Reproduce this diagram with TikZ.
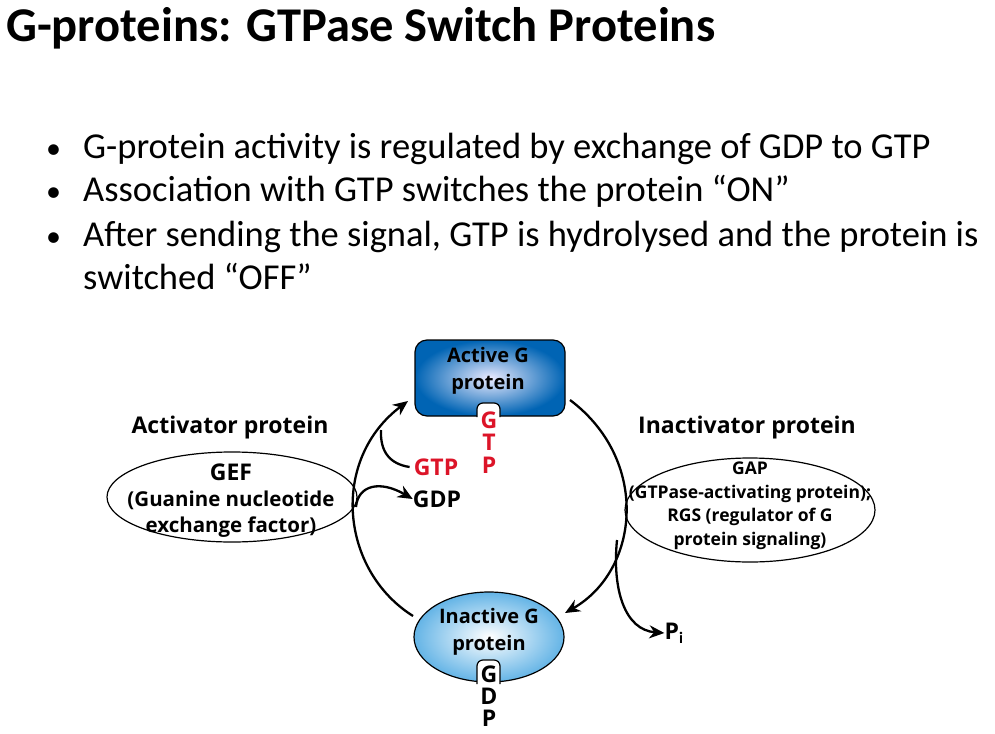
\documentclass[tikz,border=0pt]{standalone}
\usepackage{fontspec}
\setmainfont{Carlito}
\newfontfamily\dfont{Open Sans}
\usetikzlibrary{arrows.meta}
\begin{document}
\begin{tikzpicture}[x=1pt,y=-1pt,
  arr/.style={line width=2.3pt,-{Stealth[length=15pt,width=13pt]}},
  lbl/.style={font=\dfont\bfseries\fontsize{23}{25}\selectfont,inner sep=0pt},
  sm/.style={font=\dfont\bfseries\fontsize{17.5}{23.5}\selectfont,align=center,inner sep=0pt},
  md/.style={font=\dfont\bfseries\fontsize{20.5}{26}\selectfont,align=center,inner sep=0pt},
  bul/.style={font=\fontsize{36.5}{44}\selectfont,anchor=base west,inner sep=0pt}]
\useasboundingbox (0,0) rectangle (995,733);
\node[anchor=base west,inner sep=0pt,font=\bfseries\fontsize{48.5}{52}\selectfont] (title) at (6,42) {G-proteins: GTPase Switch Proteins};
\foreach \yy/\t [count=\i] in {158/{G-protein activity is regulated by exchange of GDP to GTP},201/{Association with GTP switches the protein “ON”},246/{After sending the signal, GTP is hydrolysed and the protein is},289/{switched “OFF”}}{
  \node[bul] (b\i) at (83,\yy) {\t};}
\foreach \yy/\i in {158/1,201/2,246/3}{\node[bul,font=\fontsize{30}{44}\selectfont] (d\i) at (46,\yy) {•};}
% active box
\path[shading=radial,inner color=blue!8!white,outer color={rgb,255:red,0;green,100;blue,180},draw=black,line width=1.2pt,rounded corners=12pt]
  (415,340) rectangle (565,416);
\node[md,font=\dfont\bfseries\fontsize{20}{27}\selectfont] (act) at (488,371) {Active G\\protein};
\draw[fill=white,line width=1.2pt] (477,417) -- (477,409) to[out=90,in=180] (483,403) -- (494,403) to[out=0,in=90] (500,409) -- (500,417);
\fill[white] (478,414) rectangle (499,418);
\foreach \c/\yy in {G/420,T/442,P/465}{\node[lbl,text={rgb,255:red,220;green,20;blue,40}] at (489,\yy) {\c};}
% inactive
\path[shading=radial,inner color=white,outer color={rgb,255:red,100;green,180;blue,230},draw=black,line width=1.2pt]
  (489,637) ellipse [x radius=75,y radius=45];
\node[md,font=\dfont\bfseries\fontsize{20}{27}\selectfont] (inact) at (489,632) {Inactive G\\protein};
\draw[fill=white,line width=1.2pt] (477,684) -- (477,666) to[out=90,in=180] (483,660) -- (494,660) to[out=0,in=90] (500,666) -- (500,684);
\fill[white] (478,682) rectangle (499,686);
\foreach \c/\yy in {G/674,D/696,P/718}{\node[lbl] at (489,\yy) {\c};}
% side ellipses
\draw[line width=1.2pt] (232,497) ellipse [x radius=125,y radius=45];
\node[lbl] (actp) at (230,428) {Activator protein};
\node[md] (gef) at (231,501) {{\fontsize{23}{25}\selectfont GEF}\\(Guanine nucleotide\\exchange factor)};
\draw[line width=1.2pt] (750,510) ellipse [x radius=125,y radius=52];
\node[lbl] (inactp) at (747,428) {Inactivator protein};
\node[sm] (gap) at (750,506) {GAP\\(GTPase-activating protein);\\RGS (regulator of G\\protein signaling)};
% cycle arrows
\coordinate (lstart) at (413,616);
\coordinate (ltop) at (408,401);
\draw[arr] (lstart) .. controls (340,570) and (330,460) .. (ltop);
\coordinate (rstart) at (570,400);
\coordinate (rend) at (565,613);
\draw[arr] (rstart) .. controls (650,460) and (640,570) .. (rend);
\node[lbl,text={rgb,255:red,220;green,20;blue,40}] (gtp) at (436,467) {GTP};
\node[lbl] (gdp) at (437,499) {GDP};
\draw[line width=2.3pt] (gtp.west) ++(-4,0) .. controls (390,464) and (380,452) .. (381,430);
\draw[arr] (356,507) .. controls (358,485) and (380,480) .. (gdp.west);
\node[lbl] (pi) at (674,633) {P$_{\mathbf i}$};
\draw[arr] (617,540) .. controls (612,590) and (625,630) .. (pi.west);
\end{tikzpicture}
\end{document}
